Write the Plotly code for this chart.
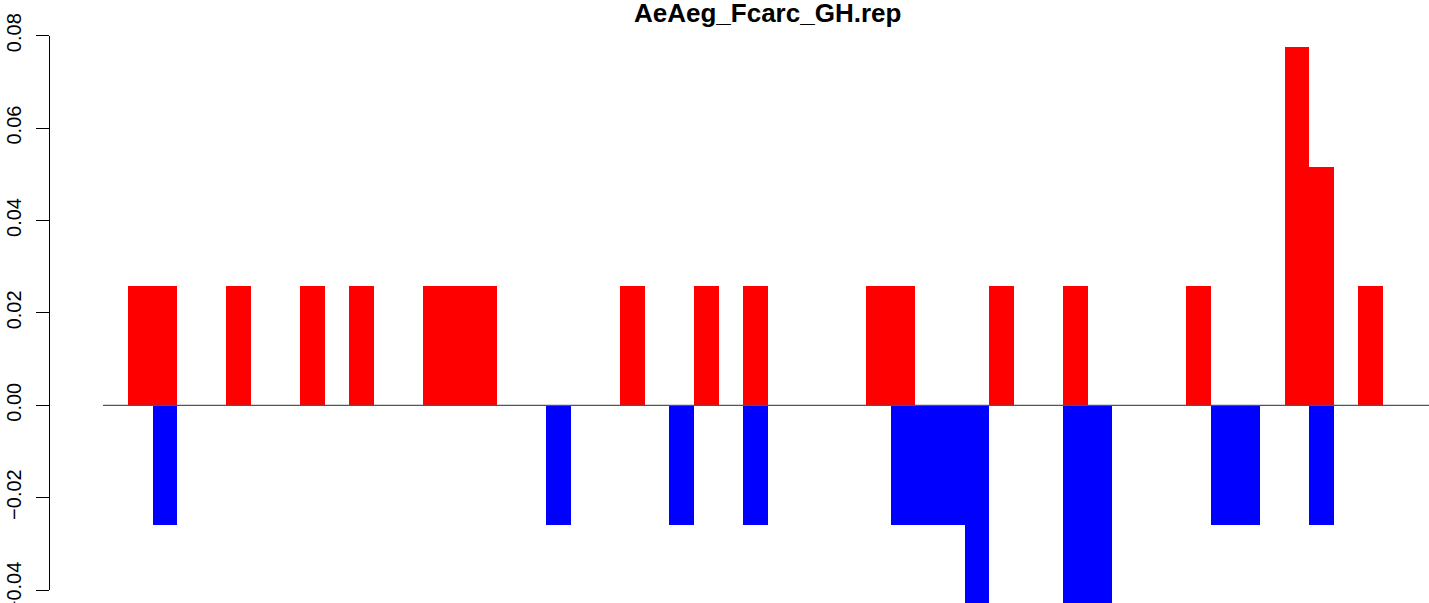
import plotly.graph_objects as go

# ---- data ----
categories = list(range(51))
red_values = [0.0258, 0.0258, 0, 0, 0.0258, 0, 0, 0.0258, 0, 0.0258,
              0, 0, 0.0258, 0.0258, 0.0258, 0, 0, 0, 0, 0,
              0.0258, 0, 0, 0.0258, 0, 0.0258, 0, 0, 0, 0,
              0.0258, 0.0258, 0, 0, 0, 0.0258, 0, 0, 0.0258, 0,
              0, 0, 0, 0.0258, 0, 0, 0, 0.0775, 0.0516, 0,
              0.0258]
blue_values = [0, -0.0258, 0, 0, 0, 0, 0, 0, 0, 0,
               0, 0, 0, 0, 0, 0, 0, -0.0258, 0, 0,
               0, 0, -0.0258, 0, 0, -0.0258, 0, 0, 0, 0,
               0, -0.0258, -0.0258, -0.0258, -0.0516, 0, 0, 0, -0.0516, -0.0516,
               0, 0, 0, 0, -0.0258, -0.0258, 0, 0, -0.0258, 0,
               0]
tick_values = [-0.04, -0.02, 0.00, 0.02, 0.04, 0.06, 0.08]
title_text = "AeAeg_Fcarc_GH.rep"

W, H = 1429, 603
L = 50
FONT = "Liberation Sans, Arial, sans-serif"

fig = go.Figure()
fig.add_trace(go.Bar(x=categories, y=red_values, marker=dict(color="#FF0000", line=dict(width=0)),
                     width=1.0, showlegend=False, hoverinfo="x+y"))
fig.add_trace(go.Bar(x=categories, y=blue_values, marker=dict(color="#0000FF", line=dict(width=0)),
                     width=1.0, showlegend=False, hoverinfo="x+y"))
# invisible trace carrying the visible R-style y axis
fig.add_trace(go.Scatter(x=[None], y=[None], yaxis="y2", xaxis="x", showlegend=False,
                         hoverinfo="skip", mode="lines"))

fig.update_layout(
    width=W, height=H,
    template="none",
    paper_bgcolor="white", plot_bgcolor="rgba(0,0,0,0)",
    margin=dict(l=L, r=0, t=0, b=0, autoexpand=False),
    barmode="overlay", bargap=0,
    font=dict(family=FONT, color="black"),
    xaxis=dict(range=[-3.67, 52.37], visible=False, showgrid=False, zeroline=False,
               automargin=False, domain=[0, 1]),
    yaxis=dict(range=[-0.04279, 0.08773], visible=False, showgrid=False, zeroline=False,
               automargin=False, domain=[0, 1]),
    yaxis2=dict(range=[-0.04, 0.08], domain=[13 / H, (H - 35.7) / H], anchor="x",
                side="left", showline=True, linecolor="black", linewidth=1.3,
                ticks="outside", ticklen=13, tickwidth=1.3, tickcolor="black",
                tickvals=tick_values, tickformat=".2f", tickangle=-90,
                ticklabelstandoff=7, ticklabeloverflow="allow",
                tickfont=dict(size=20, family=FONT),
                showgrid=False, zeroline=False, automargin=False),
    shapes=[dict(type="line", xref="paper", yref="y", x0=(103 - L) / (W - L), x1=1,
                 y0=0, y1=0, line=dict(color="#555555", width=1.2), layer="above")],
    annotations=[dict(text="<b>" + title_text + "</b>", xref="paper", yref="paper",
                      x=(767 - L) / (W - L), y=1 - 13 / H, xanchor="center", yanchor="middle",
                      showarrow=False, font=dict(size=26, family=FONT))],
)

fig.write_html("out.html", config={"displayModeBar": False},
               post_script="document.body.style.margin='0';document.body.style.overflow='hidden';")
